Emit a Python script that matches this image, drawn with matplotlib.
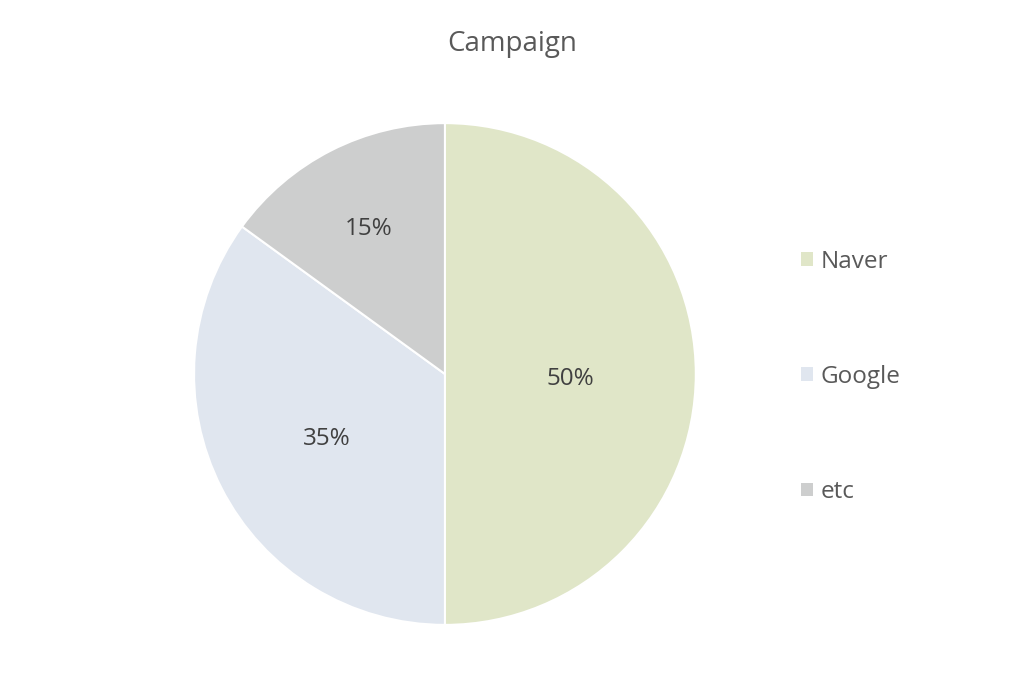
import numpy as np
import matplotlib.pyplot as plt
from matplotlib.patches import Patch

plt.rcParams['font.family'] = ['Open Sans', 'DejaVu Sans']

labels = ['Naver', 'Google', 'etc']
values = [50, 35, 15]
colors = ['#E0E6C8', '#E0E6EF', '#CDCECE']
label_dist = [0.50, 0.53, 0.67]
text_color = '#595959'

fig = plt.figure(figsize=(10.24, 6.83), dpi=100)
ax = fig.add_axes([0.1895, 0.0849, 0.490, 0.735])

wedges, _ = ax.pie(values, colors=colors, startangle=90, counterclock=False,
                   wedgeprops=dict(edgecolor='white', linewidth=1.5))

# percentage labels placed at the wedge mid angle
total = sum(values)
for w, v, d in zip(wedges, values, label_dist):
    mid = np.deg2rad((w.theta1 + w.theta2) / 2)
    ax.text(d * np.cos(mid), d * np.sin(mid) - 0.02, f'{v / total * 100:.0f}%',
            ha='center', va='center', fontsize=17.5, color='#404040')

ax.set_xlim(-1, 1)
ax.set_ylim(-1, 1)
ax.set_aspect('equal')

fig.text(0.5, 1 - 44 / 683, 'Campaign', ha='center', va='center',
         fontsize=20, color=text_color)

handles = [Patch(facecolor=c, edgecolor='none') for c in colors]
leg = fig.legend(handles, labels, loc='center left', bbox_to_anchor=(0.761, 1 - 377 / 683),
                 frameon=False, fontsize=17.5, handlelength=0.5, handleheight=0.5,
                 handletextpad=0.3, labelspacing=3.75)
for t in leg.get_texts():
    t.set_color(text_color)

fig.savefig('out.png', dpi=100, facecolor='white')
